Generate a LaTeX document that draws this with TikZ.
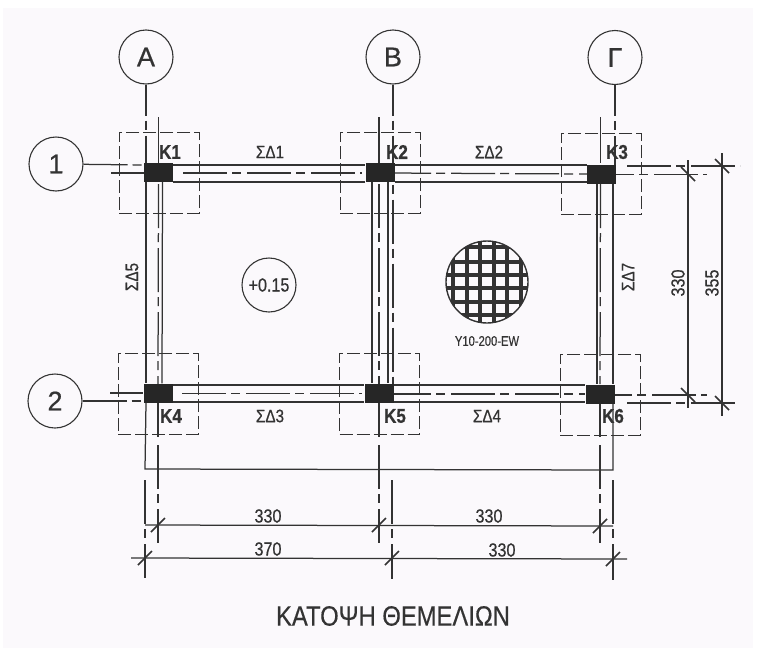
\documentclass[tikz,border=0pt]{standalone}
\usepackage{xcolor}
\usepackage{fontspec}
\setmainfont{Liberation Sans}
\newfontfamily\balloonfont[FakeBold=0.6]{Liberation Sans}
\newfontfamily\cadfont[FakeStretch=0.85,FakeBold=0.6]{Liberation Sans}
\newfontfamily\rebarfont[FakeStretch=0.8,FakeBold=0.3]{Liberation Sans}
\newfontfamily\titlefont[FakeStretch=0.85,FakeBold=0.4]{Liberation Sans}
\tikzset{>=latex}
\colorlet{myink}{black!80}
\definecolor{mypaper}{RGB}{251,249,252}
\tikzset{
  balloon/.style={draw=myink,circle,line width=1.1pt,minimum size=54pt,inner sep=0pt,text=myink,font=\balloonfont\fontsize{27}{27}\selectfont},
  footing/.style={draw=myink,line width=1pt,dash pattern=on 13pt off 4pt,minimum width=80pt,minimum height=81pt,inner sep=0pt},
  column/.style={fill=black!85,minimum width=29pt,minimum height=19pt,inner sep=0pt},
  collabel/.style={text=myink,inner sep=0pt,font=\cadfont\bfseries\fontsize{20}{20}\selectfont},
  beamlabel/.style={text=myink,inner sep=0pt,font=\cadfont\fontsize{18}{18}\selectfont},
  dimlabel/.style={text=myink,inner sep=0pt,font=\cadfont\fontsize{19}{19}\selectfont},
  solidline/.style={draw=myink,line width=1.25pt},
  axisline/.style={draw=myink,line width=1.25pt,dash pattern=on 44pt off 5pt on 9pt off 6pt},
  ticks/.style={draw=myink,line width=1.6pt},
}
\begin{document}
\begin{tikzpicture}[x=1pt,y=-1pt]

  \useasboundingbox (0,0) rectangle (763,648);
  \fill[white] (0,0) rectangle (763,648);
  \fill[mypaper] (3,8) rectangle (753,648);

  % GRID BALLOONS
  \node[balloon] (A) at (146,57) {A};
  \node[balloon] (B) at (393,57) {B};
  \node[balloon] (G) at (615,57.5) {Γ};
  \node[balloon] (R1) at (56,164) {1};
  \node[balloon] (R2) at (55,401) {2};

  % GRID AND AXIS LINES
  \coordinate (A1) at (146,163);
  \coordinate (B1) at (393,403);
  \coordinate (G1) at (615,165);
  \draw[axisline,dash phase=13pt] (A) -- (A1);
  \draw[axisline,dash phase=13pt] (B) -- (B1);
  \draw[axisline,dash phase=13pt] (G) -- (G1);
  \draw[axisline] (R1) -- (144,165);
  \draw[axisline] (R2) -- (143,401);
  \draw[solidline] (111,173) -- (144,173);
  \draw[solidline] (110,393) -- (143,393);
  \draw[axisline] (183,173) -- (362,173);
  \draw[axisline] (387,173) -- (587,174);
  \draw[axisline] (182,393.5) -- (362,393.5);
  \draw[axisline] (387,394) -- (585,394);
  \draw[axisline] (590,174.5) -- (707,174.5);
  \draw[axisline] (588,395) -- (707,395);
  \draw[axisline] (627,166) -- (740,166);
  \draw[axisline] (627,403) -- (738,403);
  \foreach \x/\xb in {158.5/158,379/379,600.5/600}{
    \draw[solidline] (\x,117) -- (\x,163);
    \draw[axisline] (\x,184) -- (\xb,384);
    \draw[solidline] (\xb,403) -- (\xb,437);
    \draw[axisline] (\xb,445) -- (\xb,543);
  }

  % FOOTINGS, COLUMNS AND BEAMS
  \foreach \n/\fx/\fy/\kx/\ky/\lx/\ly in {
    1/159/172.5/158.5/172.5/170/152,
    2/380/172.5/380/172.5/397/152,
    3/601/173.5/601.5/174.5/617/152,
    4/158/393.5/158/393/171/416,
    5/379.5/393.5/379/393/395/416,
    6/600/394.5/600/394/613/416}{
    \node[footing] (F\n) at (\fx,\fy) {};
    \node[column] (K\n) at (\kx,\ky) {};
    \node[collabel] (L\n) at (\lx,\ly) {K\n};
  }
  \draw[solidline] ([yshift=7.5pt]K1.east) -- ([yshift=7.5pt]K2.west);
  \draw[solidline] ([yshift=-9.5pt]K1.east) -- ([yshift=-9.5pt]K2.west);
  \draw[solidline] ([yshift=7.5pt]K2.east) -- ([yshift=9.5pt]K3.west);
  \draw[solidline] ([yshift=-9.5pt]K2.east) -- ([yshift=-7.5pt]K3.west);
  \draw[solidline] ([yshift=8pt]K4.east) -- ([yshift=8pt]K5.west);
  \draw[solidline] ([yshift=-9pt]K4.east) -- ([yshift=-9pt]K5.west);
  \draw[solidline] ([yshift=8pt]K5.east) -- ([yshift=9pt]K6.west);
  \draw[solidline] ([yshift=-9pt]K5.east) -- ([yshift=-8pt]K6.west);
  \draw[solidline] ([xshift=-12.5pt]K1.south) -- ([xshift=-12pt]K4.north);
  \draw[solidline] ([xshift=4pt]K1.south) -- ([xshift=4pt]K4.north);
  \draw[solidline] ([xshift=-8pt]K2.south) -- ([xshift=-7pt]K5.north);
  \draw[solidline] ([xshift=8pt]K2.south) -- ([xshift=9pt]K5.north);
  \draw[solidline] ([xshift=-4.5pt]K3.south) -- ([xshift=-3pt]K6.north);
  \draw[solidline] ([xshift=11.5pt]K3.south) -- ([xshift=13pt]K6.north);

  % LABELS
  \node[beamlabel] (S1) at (270,152) {ΣΔ1};
  \node[beamlabel] (S2) at (489,152) {ΣΔ2};
  \node[beamlabel] (S3) at (270,416) {ΣΔ3};
  \node[beamlabel] (S4) at (487,416) {ΣΔ4};
  \node[beamlabel,rotate=90] (S5) at (132,277) {ΣΔ5};
  \node[beamlabel,rotate=90] (S7) at (628,277) {ΣΔ7};
  \node[draw=myink,circle,line width=1.1pt,minimum size=54pt,inner sep=0pt,text=myink,font=\cadfont\fontsize{19}{19}\selectfont] (level) at (269,285) {+0.15};

  % REBAR MESH
  \begin{scope}
    \clip (487,282) circle (41);
    \foreach \p in {453,467,480,494,507,521}
      \draw[myink,line width=3.5pt] (\p,240) -- (\p,324);
    \foreach \p in {247,262,275,288,302,315}
      \draw[myink,line width=3.5pt] (445,\p) -- (529,\p);
  \end{scope}
  \draw[myink,line width=1.4pt] (487,282) circle (41);
  \node[text=myink,inner sep=0pt,font=\rebarfont\fontsize{14}{14}\selectfont] (mesh) at (487,341) {Y10-200-EW};

  % DIMENSIONS
  \coordinate (D1) at (145,469);
  \coordinate (D2) at (613,470);
  \draw[solidline] (146,403) -- (D1) -- (D2) -- (613,404);
  \draw[axisline] (145,480) -- (145,578);
  \draw[axisline] (392,480) -- (392,579);
  \draw[axisline] (613,480) -- (613,580);
  \draw[solidline] (145,525) -- (613,526);
  \draw[solidline] (131,558) -- (627,559);
  \draw[solidline] (688,160) -- (688,408);
  \draw[solidline] (722,153) -- (722,416);
  \foreach \x/\y in {158/525,379/525,600/526,145/558,392/558,613/559}
    \draw[ticks] ([xshift=-7pt,yshift=-7pt]\x,\y) -- ([xshift=7pt,yshift=7pt]\x,\y);
  \foreach \x/\y in {688/174,688/395,722/166,722/403}
    \draw[ticks] ([xshift=-7pt,yshift=7pt]\x,\y) -- ([xshift=7pt,yshift=-7pt]\x,\y);
  \node[dimlabel] (d1) at (268,516) {330};
  \node[dimlabel] (d2) at (489,516) {330};
  \node[dimlabel] (d3) at (268,549) {370};
  \node[dimlabel] (d4) at (502,550) {330};
  \node[dimlabel,rotate=90] (d5) at (678,283) {330};
  \node[dimlabel,rotate=90] (d6) at (712,283) {355};

  % TITLE
  \node[text=myink,inner sep=0pt,font=\titlefont\fontsize{28}{28}\selectfont] (title) at (393,616) {ΚΑΤΟΨΗ ΘΕΜΕΛΙΩΝ};

\end{tikzpicture}
\end{document}
